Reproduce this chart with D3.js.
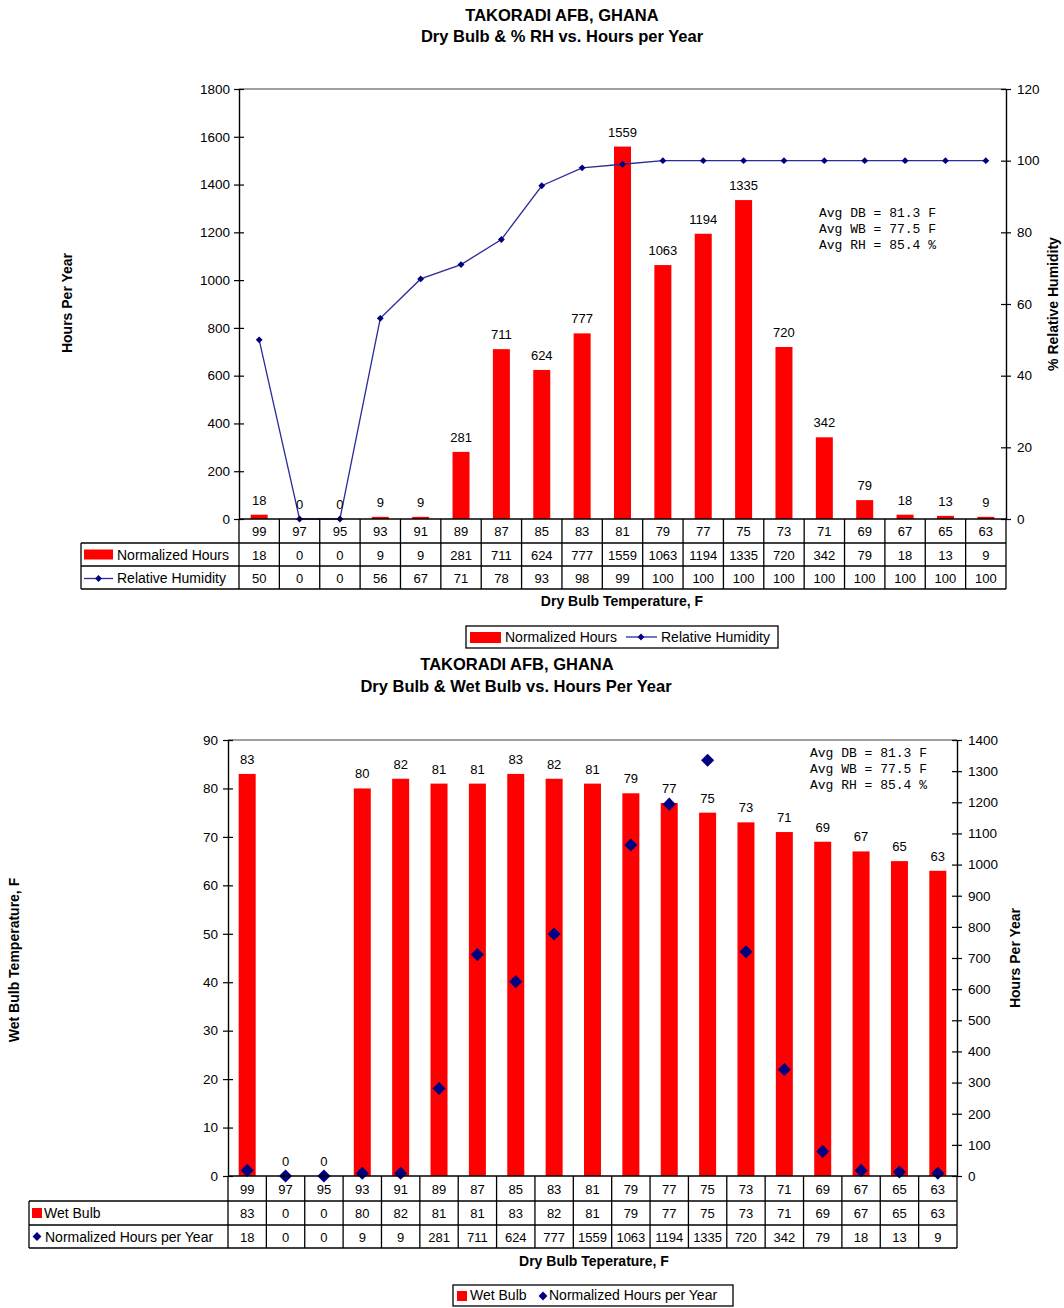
<!DOCTYPE html>
<html>
<head>
<meta charset="utf-8">
<title>Takoradi AFB, Ghana – Dry Bulb bins</title>
<script src="https://cdn.jsdelivr.net/npm/d3@7"></script>
<style>
  body { margin: 0; background: #fff; }
  svg { display: block; }
</style>
</head>
<body>
<svg id="chart" width="1064" height="1308"></svg>
<script>
// ---- data -------------------------------------------------------------
const dryBulb = [99, 97, 95, 93, 91, 89, 87, 85, 83, 81, 79, 77, 75, 73, 71, 69, 67, 65, 63];
const normalizedHours = [18, 0, 0, 9, 9, 281, 711, 624, 777, 1559, 1063, 1194, 1335, 720, 342, 79, 18, 13, 9];
const relativeHumidity = [50, 0, 0, 56, 67, 71, 78, 93, 98, 99, 100, 100, 100, 100, 100, 100, 100, 100, 100];
const wetBulb = [83, 0, 0, 80, 82, 81, 81, 83, 82, 81, 79, 77, 75, 73, 71, 69, 67, 65, 63];

const hoursTicksTop = [0, 200, 400, 600, 800, 1000, 1200, 1400, 1600, 1800];
const rhTicks = [0, 20, 40, 60, 80, 100, 120];
const wetBulbTicks = [0, 10, 20, 30, 40, 50, 60, 70, 80, 90];
const hoursTicksBottom = [0, 100, 200, 300, 400, 500, 600, 700, 800, 900, 1000, 1100, 1200, 1300, 1400];

const stationName = "TAKORADI AFB, GHANA";
const averages = ["Avg DB = 81.3 F", "Avg WB = 77.5 F", "Avg RH = 85.4 %"];

// ---- shared styling ---------------------------------------------------
const FONT = '"Liberation Sans", Arial, Helvetica, sans-serif';
const MONO = '"Liberation Mono", "Courier New", monospace';
const RED = "#ff0000";
const NAVY = "#000080";
const LINE_BLUE = "#2b2b99";
const KEY_SIZE = 14;
const plain = d3.format("d");

const svg = d3.select("#chart");
const diamond = d3.symbol().type(d3.symbolDiamond2);

function styleAxis(g) {
  g.attr("font-family", FONT).attr("font-size", 13.5);
  g.select(".domain").attr("stroke", "#000").attr("stroke-width", 1.4);
  g.selectAll(".tick line").attr("stroke", "#000").attr("stroke-width", 1.2)
    .attr("x1", -5).attr("x2", 5);
  g.selectAll(".tick text").attr("fill", "#000");
}

function text(g, x, y, s, opts = {}) {
  const t = g.append("text")
    .attr("x", x).attr("y", y)
    .attr("font-family", opts.family || FONT)
    .attr("font-size", opts.size || 13)
    .attr("font-weight", opts.weight || "normal")
    .attr("text-anchor", opts.anchor || "middle")
    .attr("fill", "#000")
    .text(s);
  if (opts.rotate) t.attr("transform", `rotate(${opts.rotate},${x},${y})`);
  return t;
}

// Data table under the plot: header row of dry-bulb bins plus two series rows
function drawTable(g, x, rowsY, legendLeft, rows) {
  const [y0, y1, y2, y3] = rowsY;
  const left = x.range()[0], right = x.range()[1];
  const lines = g.append("g").attr("stroke", "#000").attr("stroke-width", 1.3);
  lines.append("line").attr("x1", left).attr("x2", right).attr("y1", y0).attr("y2", y0);
  [y1, y2, y3].forEach(y => lines.append("line").attr("x1", legendLeft).attr("x2", right).attr("y1", y).attr("y2", y));
  lines.append("line").attr("x1", legendLeft).attr("x2", legendLeft).attr("y1", y1).attr("y2", y3);
  const bounds = x.domain().map(d => x(d)).concat([right]);
  bounds.forEach(bx => lines.append("line").attr("x1", bx).attr("x2", bx).attr("y1", y0).attr("y2", y3));

  const cx = d => x(d) + x.bandwidth() / 2;
  dryBulb.forEach(d => text(g, cx(String(d)), (y0 + y1) / 2 + 5, d));
  rows.forEach((row, r) => {
    const ya = r === 0 ? y1 : y2, yb = r === 0 ? y2 : y3;
    row.values.forEach((v, i) => text(g, cx(String(dryBulb[i])), (ya + yb) / 2 + 5, v));
    row.key(g, legendLeft, ya, yb);
  });
}

// ======================================================================
// Chart 1: Dry Bulb & % RH vs. Hours per Year
// ======================================================================
(function () {
  const g = svg.append("g");
  const left = 239, right = 1006, top = 89, bottom = 519;
  const x = d3.scaleBand().domain(dryBulb.map(String)).range([left, right]).padding(0);
  const yH = d3.scaleLinear().domain([0, 1800]).range([bottom, top]);
  const yRH = d3.scaleLinear().domain([0, 120]).range([bottom, top]);
  const cx = i => x(String(dryBulb[i])) + x.bandwidth() / 2;

  text(g, 562, 21, stationName, { size: 16.5, weight: "bold" });
  text(g, 562, 42, "Dry Bulb & % RH vs. Hours per Year", { size: 16.5, weight: "bold" });

  // plot frame top
  g.append("line").attr("x1", left).attr("x2", right).attr("y1", top).attr("y2", top)
    .attr("stroke", "#808080").attr("stroke-width", 1.3);

  // bars
  const barW = 17;
  g.append("g").selectAll("rect").data(normalizedHours).join("rect")
    .attr("x", (d, i) => cx(i) - barW / 2)
    .attr("width", barW)
    .attr("y", d => yH(d))
    .attr("height", d => bottom - yH(d))
    .attr("fill", RED);

  // RH line + markers
  const line = d3.line().x((d, i) => cx(i)).y(d => yRH(d));
  g.append("path").datum(relativeHumidity).attr("d", line)
    .attr("fill", "none").attr("stroke", LINE_BLUE).attr("stroke-width", 1.3);
  g.append("g").selectAll("path").data(relativeHumidity).join("path")
    .attr("d", diamond.size(30))
    .attr("transform", (d, i) => `translate(${cx(i)},${yRH(d)})`)
    .attr("fill", NAVY);

  // bar value labels
  normalizedHours.forEach((v, i) => text(g, cx(i), yH(v) - 10, v, { size: 13 }));

  // axes
  g.append("g").attr("transform", `translate(${left},0)`)
    .call(d3.axisLeft(yH).tickValues(hoursTicksTop).tickFormat(plain).tickSizeInner(5).tickSizeOuter(0).tickPadding(4))
    .call(styleAxis);
  g.append("g").attr("transform", `translate(${right},0)`)
    .call(d3.axisRight(yRH).tickValues(rhTicks).tickFormat(plain).tickSizeInner(5).tickSizeOuter(0).tickPadding(6))
    .call(styleAxis);

  averages.forEach((s, i) => text(g, 819, 217 + i * 16, s, { family: MONO, size: 13, anchor: "start" }));

  text(g, 72, 303, "Hours Per Year", { size: 14, weight: "bold", rotate: -90 });
  text(g, 1058, 304, "% Relative Humidity", { size: 14, weight: "bold", rotate: -90 });

  drawTable(g, x, [519, 543, 566, 589], 81, [
    { values: normalizedHours, key: (t, lx, ya, yb) => {
        t.append("rect").attr("x", lx + 3).attr("y", (ya + yb) / 2 - 5).attr("width", 29).attr("height", 10).attr("fill", RED);
        text(t, lx + 36, (ya + yb) / 2 + 5, "Normalized Hours", { size: KEY_SIZE, anchor: "start" });
      } },
    { values: relativeHumidity, key: (t, lx, ya, yb) => {
        const my = (ya + yb) / 2 + 1;
        t.append("line").attr("x1", lx + 3).attr("x2", lx + 32).attr("y1", my).attr("y2", my).attr("stroke", LINE_BLUE).attr("stroke-width", 1.3);
        t.append("path").attr("d", diamond.size(30)).attr("transform", `translate(${lx + 17.5},${my})`).attr("fill", NAVY);
        text(t, lx + 36, (ya + yb) / 2 + 5, "Relative Humidity", { size: KEY_SIZE, anchor: "start" });
      } }
  ]);

  text(g, 622, 606, "Dry Bulb Temperature, F", { size: 14, weight: "bold" });

  // legend
  const lg = g.append("g");
  lg.append("rect").attr("x", 466).attr("y", 626).attr("width", 312).attr("height", 22)
    .attr("fill", "#fff").attr("stroke", "#000").attr("stroke-width", 1.3);
  lg.append("rect").attr("x", 470).attr("y", 632).attr("width", 31).attr("height", 11).attr("fill", RED);
  text(lg, 505, 642, "Normalized Hours", { size: KEY_SIZE, anchor: "start" });
  lg.append("line").attr("x1", 626).attr("x2", 657).attr("y1", 637).attr("y2", 637).attr("stroke", LINE_BLUE).attr("stroke-width", 1.3);
  lg.append("path").attr("d", diamond.size(30)).attr("transform", "translate(641,637)").attr("fill", NAVY);
  text(lg, 661, 642, "Relative Humidity", { size: KEY_SIZE, anchor: "start" });
})();

// ======================================================================
// Chart 2: Dry Bulb & Wet Bulb vs. Hours Per Year
// ======================================================================
(function () {
  const g = svg.append("g");
  const left = 228, right = 957, top = 740, bottom = 1176;
  const x = d3.scaleBand().domain(dryBulb.map(String)).range([left, right]).padding(0);
  const yWB = d3.scaleLinear().domain([0, 90]).range([bottom, top]);
  const yH = d3.scaleLinear().domain([0, 1400]).range([bottom, top]);
  const cx = i => x(String(dryBulb[i])) + x.bandwidth() / 2;

  text(g, 517, 670, stationName, { size: 16.5, weight: "bold" });
  text(g, 516, 692, "Dry Bulb & Wet Bulb vs. Hours Per Year", { size: 16.5, weight: "bold" });

  g.append("line").attr("x1", left).attr("x2", right).attr("y1", top).attr("y2", top)
    .attr("stroke", "#808080").attr("stroke-width", 1.3);

  const barW = 17;
  g.append("g").selectAll("rect").data(wetBulb).join("rect")
    .attr("x", (d, i) => cx(i) - barW / 2)
    .attr("width", barW)
    .attr("y", d => yWB(d))
    .attr("height", d => bottom - yWB(d))
    .attr("fill", RED);

  wetBulb.forEach((v, i) => text(g, cx(i), yWB(v) - 10, v, { size: 13 }));

  // hours markers; values beyond the right-axis maximum are not plotted
  const pts = normalizedHours.map((v, i) => ({ v, i })).filter(p => p.v <= yH.domain()[1]);
  g.append("g").selectAll("path").data(pts).join("path")
    .attr("d", diamond.size(110))
    .attr("transform", p => `translate(${cx(p.i)},${yH(p.v)})`)
    .attr("fill", NAVY);

  g.append("g").attr("transform", `translate(${left},0)`)
    .call(d3.axisLeft(yWB).tickValues(wetBulbTicks).tickFormat(plain).tickSizeInner(5).tickSizeOuter(0).tickPadding(5))
    .call(styleAxis);
  g.append("g").attr("transform", `translate(${right},0)`)
    .call(d3.axisRight(yH).tickValues(hoursTicksBottom).tickFormat(plain).tickSizeInner(5).tickSizeOuter(0).tickPadding(6))
    .call(styleAxis);

  averages.forEach((s, i) => text(g, 810, 757 + i * 16, s, { family: MONO, size: 13, anchor: "start" }));

  text(g, 19, 960, "Wet Bulb Temperature, F", { size: 14, weight: "bold", rotate: -90 });
  text(g, 1020, 958, "Hours Per Year", { size: 14, weight: "bold", rotate: -90 });

  drawTable(g, x, [1176, 1201, 1225, 1248], 29, [
    { values: wetBulb, key: (t, lx, ya, yb) => {
        t.append("rect").attr("x", lx + 3).attr("y", (ya + yb) / 2 - 5).attr("width", 10).attr("height", 10).attr("fill", RED);
        text(t, lx + 15, (ya + yb) / 2 + 5, "Wet Bulb", { size: KEY_SIZE, anchor: "start" });
      } },
    { values: normalizedHours, key: (t, lx, ya, yb) => {
        t.append("path").attr("d", diamond.size(50)).attr("transform", `translate(${lx + 8},${(ya + yb) / 2})`).attr("fill", NAVY);
        text(t, lx + 16, (ya + yb) / 2 + 5, "Normalized Hours per Year", { size: KEY_SIZE, anchor: "start" });
      } }
  ]);

  text(g, 594, 1266, "Dry Bulb Teperature, F", { size: 14, weight: "bold" });

  const lg = g.append("g");
  lg.append("rect").attr("x", 453).attr("y", 1285).attr("width", 280).attr("height", 21)
    .attr("fill", "#fff").attr("stroke", "#000").attr("stroke-width", 1.3);
  lg.append("rect").attr("x", 457).attr("y", 1291).attr("width", 10).attr("height", 10).attr("fill", RED);
  text(lg, 470, 1300, "Wet Bulb", { size: KEY_SIZE, anchor: "start" });
  lg.append("path").attr("d", diamond.size(50)).attr("transform", "translate(543,1296)").attr("fill", NAVY);
  text(lg, 549, 1300, "Normalized Hours per Year", { size: KEY_SIZE, anchor: "start" });
})();
</script>
</body>
</html>
